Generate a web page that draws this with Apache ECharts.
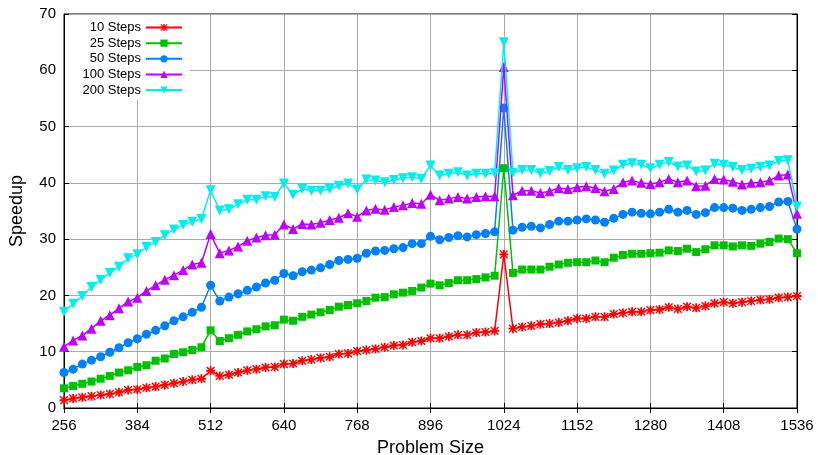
<!DOCTYPE html>
<html>
<head>
<meta charset="UTF-8">
<title>Speedup</title>
<script src="https://cdn.jsdelivr.net/npm/echarts/dist/echarts.min.js"></script>
<style>
  body { margin: 0; background: #fff; }
  #chart { width: 818px; height: 455px; }
</style>
</head>
<body>
<div id="chart"></div>
<script>
var sizes = [256, 272, 288, 304, 320, 336, 352, 368, 384, 400, 416, 432, 448, 464, 480, 496, 512,
  528, 544, 560, 576, 592, 608, 624, 640, 656, 672, 688, 704, 720, 736, 752, 768,
  784, 800, 816, 832, 848, 864, 880, 896, 912, 928, 944, 960, 976, 992, 1008, 1024,
  1040, 1056, 1072, 1088, 1104, 1120, 1136, 1152, 1168, 1184, 1200, 1216, 1232, 1248, 1264, 1280,
  1296, 1312, 1328, 1344, 1360, 1376, 1392, 1408, 1424, 1440, 1456, 1472, 1488, 1504, 1520, 1536];

var steps10 = [1.4, 1.7, 1.9, 2.1, 2.3, 2.5, 2.8, 3.2, 3.3, 3.6, 3.8, 4.1, 4.4, 4.7, 5.0, 5.2, 6.6,
  5.7, 5.9, 6.3, 6.7, 6.9, 7.2, 7.3, 7.8, 7.9, 8.4, 8.6, 8.9, 9.1, 9.6, 9.7, 10.1,
  10.3, 10.5, 10.8, 11.1, 11.2, 11.7, 11.9, 12.4, 12.4, 12.7, 13.0, 13.0, 13.4, 13.5, 13.7, 27.3,
  14.1, 14.4, 14.6, 14.9, 15.0, 15.2, 15.5, 15.9, 15.9, 16.2, 16.2, 16.7, 16.9, 17.1, 17.1, 17.4,
  17.5, 17.9, 17.6, 18.0, 17.8, 18.1, 18.6, 18.8, 18.6, 18.8, 19.0, 19.2, 19.3, 19.6, 19.7, 19.9];

var steps25 = [3.5, 3.9, 4.3, 4.7, 5.2, 5.7, 6.3, 6.7, 7.3, 7.6, 8.4, 8.8, 9.6, 9.9, 10.3, 10.8, 13.8,
  11.9, 12.4, 13.0, 13.6, 14.0, 14.5, 14.7, 15.7, 15.5, 16.2, 16.6, 17.0, 17.4, 18.0, 18.3, 18.6,
  19.0, 19.6, 19.7, 20.2, 20.5, 20.8, 21.4, 22.1, 21.8, 22.2, 22.7, 22.7, 22.9, 23.2, 23.5, 42.6,
  24.0, 24.6, 24.6, 24.6, 25.1, 25.5, 25.8, 25.9, 25.9, 26.2, 25.9, 26.7, 27.2, 27.4, 27.4, 27.5,
  27.6, 28.0, 27.9, 28.3, 27.7, 28.2, 28.9, 28.9, 28.7, 28.9, 28.8, 29.2, 29.5, 30.1, 30.0, 27.5];

var steps50 = [6.3, 6.9, 7.8, 8.5, 9.1, 9.9, 10.7, 11.6, 12.3, 13.1, 13.8, 14.6, 15.5, 16.2, 17.0, 17.9, 21.8,
  19.0, 19.7, 20.3, 20.9, 21.5, 22.2, 22.7, 23.9, 23.5, 24.2, 24.5, 24.9, 25.5, 26.2, 26.4, 26.6,
  27.5, 27.9, 28.0, 28.3, 28.5, 29.2, 29.2, 30.5, 29.9, 30.3, 30.6, 30.4, 30.8, 31.0, 31.3, 53.3,
  31.6, 32.1, 32.3, 32.0, 32.6, 33.2, 33.2, 33.4, 33.6, 33.4, 33.0, 33.7, 34.4, 34.8, 34.6, 34.5,
  34.8, 35.3, 34.8, 35.1, 34.4, 34.7, 35.6, 35.6, 35.5, 35.1, 35.3, 35.6, 35.8, 36.6, 36.7, 31.8];

var steps100 = [10.9, 12.0, 12.9, 14.1, 15.5, 16.5, 17.7, 18.9, 19.6, 20.8, 21.8, 22.8, 23.6, 24.5, 25.5, 25.8, 30.9,
  27.5, 28.0, 28.7, 29.7, 30.3, 30.7, 30.8, 32.6, 31.8, 32.7, 32.6, 32.9, 33.4, 33.8, 34.6, 34.0,
  35.1, 35.4, 35.2, 35.7, 36.0, 36.4, 36.3, 37.9, 36.9, 37.2, 37.5, 37.2, 37.5, 37.6, 37.6, 60.6,
  37.8, 38.6, 38.6, 38.2, 38.5, 39.1, 38.9, 39.2, 39.4, 39.1, 38.5, 38.9, 40.1, 40.4, 40.0, 39.8,
  40.1, 40.7, 40.1, 40.4, 39.4, 39.5, 40.7, 40.6, 40.2, 39.7, 40.0, 40.1, 40.4, 41.3, 41.5, 34.5];

var steps200 = [17.1, 18.5, 19.9, 21.5, 22.8, 24.0, 25.1, 26.6, 27.3, 28.6, 29.5, 30.7, 31.7, 32.5, 33.1, 33.6, 38.7,
  35.1, 35.3, 36.2, 37.0, 37.0, 37.6, 37.5, 39.9, 37.9, 38.9, 38.6, 38.6, 38.9, 39.5, 39.9, 38.8,
  40.6, 40.4, 40.1, 40.5, 40.8, 41.0, 40.7, 43.1, 41.3, 41.6, 41.9, 41.3, 41.6, 41.6, 41.7, 65.0,
  41.8, 42.3, 42.3, 41.7, 42.1, 42.8, 42.3, 42.6, 42.8, 42.3, 41.6, 42.2, 43.2, 43.5, 43.2, 42.6,
  43.2, 43.7, 42.9, 43.1, 42.0, 42.2, 43.4, 43.2, 42.8, 42.3, 42.5, 42.8, 43.1, 43.9, 44.0, 35.8];

var seriesNames = ['10 Steps', '25 Steps', '50 Steps', '100 Steps', '200 Steps'];
var seriesValues = [steps10, steps25, steps50, steps100, steps200];
var colors = ['#ff0000', '#00c000', '#0080ff', '#c000ff', '#00eeee'];

// gnuplot style asterisk for the first series
var asterisk = 'path://M0 4L10 4L10 6L0 6Z M4 0L6 0L6 10L4 10Z ' +
  'M1.3 0.2L9.8 8.7L8.7 9.8L0.2 1.3Z M8.7 0.2L9.8 1.3L1.3 9.8L0.2 8.7Z';
var symbols = [asterisk, 'rect', 'circle', 'triangle', 'path://M0 0L10 0L5 9Z'];
var symbolSizes = [9, 8, 9, 10, 10];

var font = "'Liberation Sans', Arial, Helvetica, sans-serif";
var chart = echarts.init(document.getElementById('chart'));

var series = [];
var legends = [];
for (var s = 0; s < seriesNames.length; s++) {
  var pts = [];
  for (var i = 0; i < sizes.length; i++) {
    pts.push([sizes[i], seriesValues[s][i]]);
  }
  series.push({
    name: seriesNames[s],
    type: 'line',
    data: pts,
    symbol: symbols[s],
    symbolSize: symbolSizes[s],
    showAllSymbol: true,
    color: colors[s],
    lineStyle: { width: 1.5, color: colors[s] },
    itemStyle: { color: colors[s] },
    z: 2 + s
  });
  legends.push({
    data: [seriesNames[s]],
    right: 635,
    top: 21 + s * 15.65,
    padding: 0,
    align: 'right',
    itemWidth: 36,
    itemHeight: 9,
    z: 10,
    textStyle: { fontFamily: font, fontSize: 13, color: '#000' }
  });
}

var axisLineStyle = { color: '#000', width: 1 };
var tickStyle = { show: true, inside: true, length: 5, lineStyle: { color: '#000' } };

var option = {
  animation: false,
  backgroundColor: '#fff',
  grid: {
    left: 64, right: 21, top: 14, bottom: 47,
    containLabel: false, outerBoundsMode: 'none',
    show: true, borderColor: '#000', borderWidth: 1
  },
  legend: legends,
  graphic: [{
    type: 'rect', left: 65, top: 15, z: 5,
    shape: { width: 125, height: 85 },
    style: { fill: '#fff' }
  }],
  xAxis: [{
    type: 'value', min: 256, max: 1536, interval: 128,
    name: 'Problem Size', nameLocation: 'middle', nameGap: 31,
    nameTextStyle: { fontFamily: font, fontSize: 18, color: '#000' },
    axisLine: { lineStyle: axisLineStyle },
    axisTick: tickStyle,
    axisLabel: {
      fontFamily: font, fontSize: 15, color: '#000', margin: 10,
      formatter: function (v) { return String(v); }
    },
    splitLine: { show: true, lineStyle: { color: '#aaaaaa', width: 1 } }
  }, {
    type: 'value', min: 256, max: 1536, interval: 128, position: 'top',
    axisLine: { lineStyle: axisLineStyle },
    axisTick: tickStyle,
    axisLabel: { show: false },
    splitLine: { show: false }
  }],
  yAxis: [{
    type: 'value', min: 0, max: 70, interval: 10,
    name: 'Speedup', nameLocation: 'middle', nameGap: 38, nameRotate: 90,
    nameTextStyle: { fontFamily: font, fontSize: 18, color: '#000' },
    axisLine: { show: true, lineStyle: axisLineStyle },
    axisTick: tickStyle,
    axisLabel: { fontFamily: font, fontSize: 15, color: '#000', margin: 8 },
    splitLine: { show: true, lineStyle: { color: '#aaaaaa', width: 1 } }
  }, {
    type: 'value', min: 0, max: 70, interval: 10, position: 'right',
    axisLine: { show: true, lineStyle: axisLineStyle },
    axisTick: tickStyle,
    axisLabel: { show: false },
    splitLine: { show: false }
  }],
  series: series
};

chart.setOption(option);
</script>
</body>
</html>
